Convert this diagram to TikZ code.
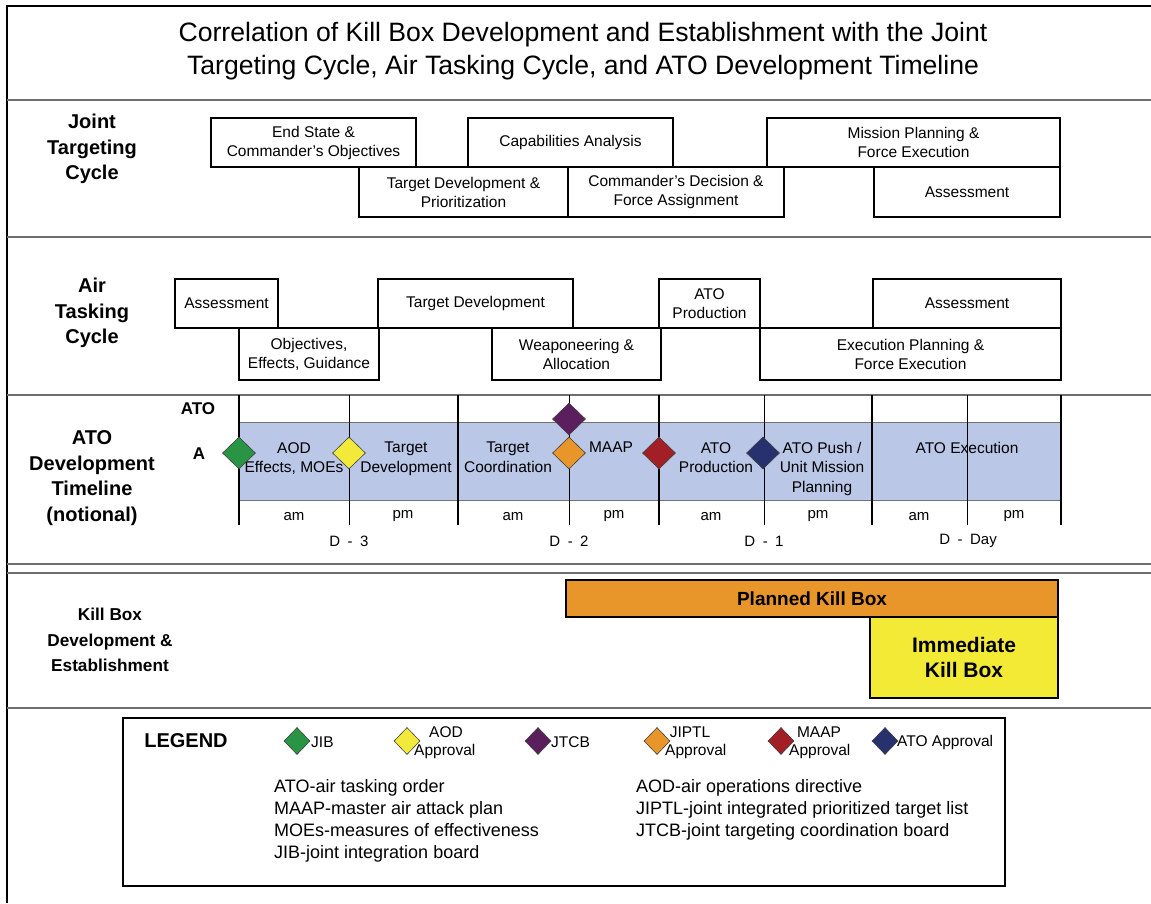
\documentclass[tikz,border=0pt]{standalone}
\usepackage{fontspec}
\setmainfont{Liberation Sans}
\usetikzlibrary{shapes.geometric}

\definecolor{bandblue}{HTML}{BAC7E6}
\definecolor{jibgreen}{HTML}{2A9445}
\definecolor{aodyellow}{HTML}{F2E93A}
\definecolor{jtcbpurple}{HTML}{5B1F5E}
\definecolor{jiptlorange}{HTML}{E8952A}
\definecolor{maapred}{HTML}{A11F25}
\definecolor{atonavy}{HTML}{26316E}
\definecolor{killyellow}{HTML}{F2EA35}
\definecolor{rulegray}{HTML}{6E6E6E}

\newcommand\fsz[2]{\fontsize{#1}{#2}\selectfont}

\tikzset{
  cyclebox/.style={draw, line width=1.8pt, inner sep=0pt, align=center, font=\fsz{15.5}{19}},
  rowlabel/.style={align=center, inner sep=0pt, font=\bfseries\fsz{20}{25.5}},
  bandtext/.style={anchor=north, align=center, inner sep=0pt, font=\fsz{15.5}{19.5}},
  halftext/.style={inner sep=0pt, font=\fsz{15}{18}},
  milestone/.style={diamond, draw=black!75, line width=0.6pt, inner sep=0pt, minimum width=33, minimum height=32, fill=#1},
  keymark/.style={diamond, draw=black!75, line width=0.6pt, inner sep=0pt, minimum width=26, minimum height=27, fill=#1},
  keytext/.style={inner sep=0pt, font=\fsz{15.5}{18}},
  killbox/.style={draw, line width=1.8pt, inner sep=0pt, align=center, font=\bfseries},
  rule/.style={draw=rulegray, line width=2pt}
}

\begin{document}
\begin{tikzpicture}[x=1pt, y=-1pt]
\useasboundingbox (0,0) rectangle (1151,903);

\draw[line width=2.5pt] (7,903) -- (7,6) -- (1151,6);
\foreach \y in {100,237,395,564,573,708}
  \draw[rule] (7,\y) -- (1151,\y);

\node[align=center, font=\fsz{26.6}{33}] (title) at (583,51.5)
  {Correlation of Kill Box Development and Establishment with the Joint\\Targeting Cycle, Air Tasking Cycle, and ATO Development Timeline};

\node[rowlabel] (jtc) at (92,149) {Joint\\Targeting\\Cycle};
\node[cyclebox, minimum width=209, minimum height=50] (js4) at (463.5,192) {Target Development \&\\Prioritization};
\node[cyclebox, minimum width=216, minimum height=50] (js5) at (676,192) {Commander's Decision \&\\Force Assignment};
\node[cyclebox, minimum width=186, minimum height=50] (js6) at (967,192) {Assessment};
\node[cyclebox, minimum width=205, minimum height=49] (js1) at (313.5,142.5) {End State \&\\Commander's Objectives};
\node[cyclebox, minimum width=205, minimum height=49] (js2) at (570.5,142.5) {Capabilities Analysis};
\node[cyclebox, minimum width=293, minimum height=49] (js3) at (913.5,142.5) {Mission Planning \&\\Force Execution};

\node[rowlabel] (atc) at (92,313) {Air\\Tasking\\Cycle};
\node[cyclebox, minimum width=140, minimum height=52] (at2) at (309,354) {Objectives,\\Effects, Guidance};
\node[cyclebox, minimum width=169, minimum height=52] (at4) at (576.5,354) {Weaponeering \&\\Allocation};
\node[cyclebox, minimum width=301, minimum height=52] (at7) at (910.5,354) {Execution Planning \&\\Force Execution};
\node[cyclebox, minimum width=103, minimum height=49] (at1) at (226.5,303.5) {Assessment};
\node[cyclebox, minimum width=195, minimum height=49] (at3) at (475.5,303.5) {Target Development};
\node[cyclebox, minimum width=101, minimum height=49] (at5) at (709.5,303.5) {ATO\\Production};
\node[cyclebox, minimum width=188, minimum height=49] (at6) at (967,303.5) {Assessment};

\node[rowlabel] (adt) at (92,478) {ATO\\Development\\Timeline\\(notional)};
\node[inner sep=0pt, font=\bfseries\fsz{17}{20}] (atoa) at (198,409) {ATO};
\node[inner sep=0pt, font=\bfseries\fsz{17}{20}] (atob) at (199,454) {A};

\draw[fill=bandblue, draw=black!55, line width=1pt] (239,422) rectangle (1061,500);
\foreach \x in {239,458,659,872,1061}
  \draw[line width=2pt] (\x,395) -- (\x,525);
\foreach \x in {349,569,764,967}
  \draw[line width=1pt] (\x,395) -- (\x,525);

\node[bandtext] (b1) at (294,442) {AOD\\Effects, MOEs};
\node[bandtext] (b2) at (406,442) {Target\\Development};
\node[bandtext] (b3) at (508,442) {Target\\Coordination};
\node[bandtext] (b4) at (611,442) {MAAP};
\node[bandtext] (b5) at (716,442) {ATO\\Production};
\node[bandtext] (b6) at (822,442) {ATO Push /\\Unit Mission\\Planning};
\node[bandtext] (b7) at (967,442) {ATO Execution};

\node[milestone=jibgreen] (m1) at (239,453) {};
\node[milestone=aodyellow] (m2) at (349,453) {};
\node[milestone=jtcbpurple] (m3) at (569,419) {};
\node[milestone=jiptlorange] (m4) at (569,453) {};
\node[milestone=maapred] (m5) at (659,453) {};
\node[milestone=atonavy] (m6) at (763,453) {};

\foreach \x/\t [count=\i] in {294/am,403/pm,513/am,614/pm,711/am,818/pm,919/am,1014/pm}
  \node[halftext] (h\i) at (\x,516.5) {\t};
\node[halftext] (d3) at (349,541) {D\enspace-\enspace3};
\node[halftext] (d2) at (569,541) {D\enspace-\enspace2};
\node[halftext] (d1) at (764,541) {D\enspace-\enspace1};
\node[halftext] (d0) at (968,541) {D\enspace-\enspace Day};

\node[rowlabel, font=\bfseries\fsz{17.2}{25.5}] (kbd) at (110,640) {Kill Box\\Development \&\\Establishment};
\node[killbox, fill=jiptlorange, minimum width=492, minimum height=37, font=\bfseries\fsz{19}{22}] (pkb) at (812,598.5) {Planned Kill Box};
\node[killbox, fill=killyellow, minimum width=188, minimum height=81, font=\bfseries\fsz{21}{25}] (ikb) at (964,657.5) {Immediate\\Kill Box};

\draw[line width=2.4pt] (123,718) rectangle (1005,886);
\node[inner sep=0pt, font=\bfseries\fsz{20}{24}] (lg) at (186,741) {LEGEND};
\node[keymark=jibgreen] (k1) at (297,741) {};
\node[keytext, anchor=west] at (311,742) {JIB};
\node[keymark=aodyellow] (k2) at (407,741) {};
\node[keytext] (k2a) at (446,732) {AOD};
\node[keytext, anchor=west] (k2b) at (414,751) {Approval};
\node[keymark=jtcbpurple] (k3) at (538,741) {};
\node[keytext, anchor=west] (k3a) at (551,742) {JTCB};
\node[keymark=jiptlorange] (k4) at (657,741) {};
\node[keytext] (k4a) at (690,732) {JIPTL};
\node[keytext, anchor=west] (k4b) at (665,751) {Approval};
\node[keymark=maapred] (k5) at (781,741) {};
\node[keytext] (k5a) at (819,732) {MAAP};
\node[keytext, anchor=west] (k5b) at (789,751) {Approval};
\node[keymark=atonavy] (k6) at (885,741) {};
\node[keytext, anchor=west] (k6a) at (897,742) {ATO Approval};

\node[anchor=north west, align=left, inner sep=0pt, font=\fsz{18}{22}] (abl) at (274,779)
  {ATO-air tasking order\\MAAP-master air attack plan\\MOEs-measures of effectiveness\\JIB-joint integration board};
\node[anchor=north west, align=left, inner sep=0pt, font=\fsz{18}{22}] (abr) at (636,779)
  {AOD-air operations directive\\JIPTL-joint integrated prioritized target list\\JTCB-joint targeting coordination board};
\end{tikzpicture}
\end{document}
